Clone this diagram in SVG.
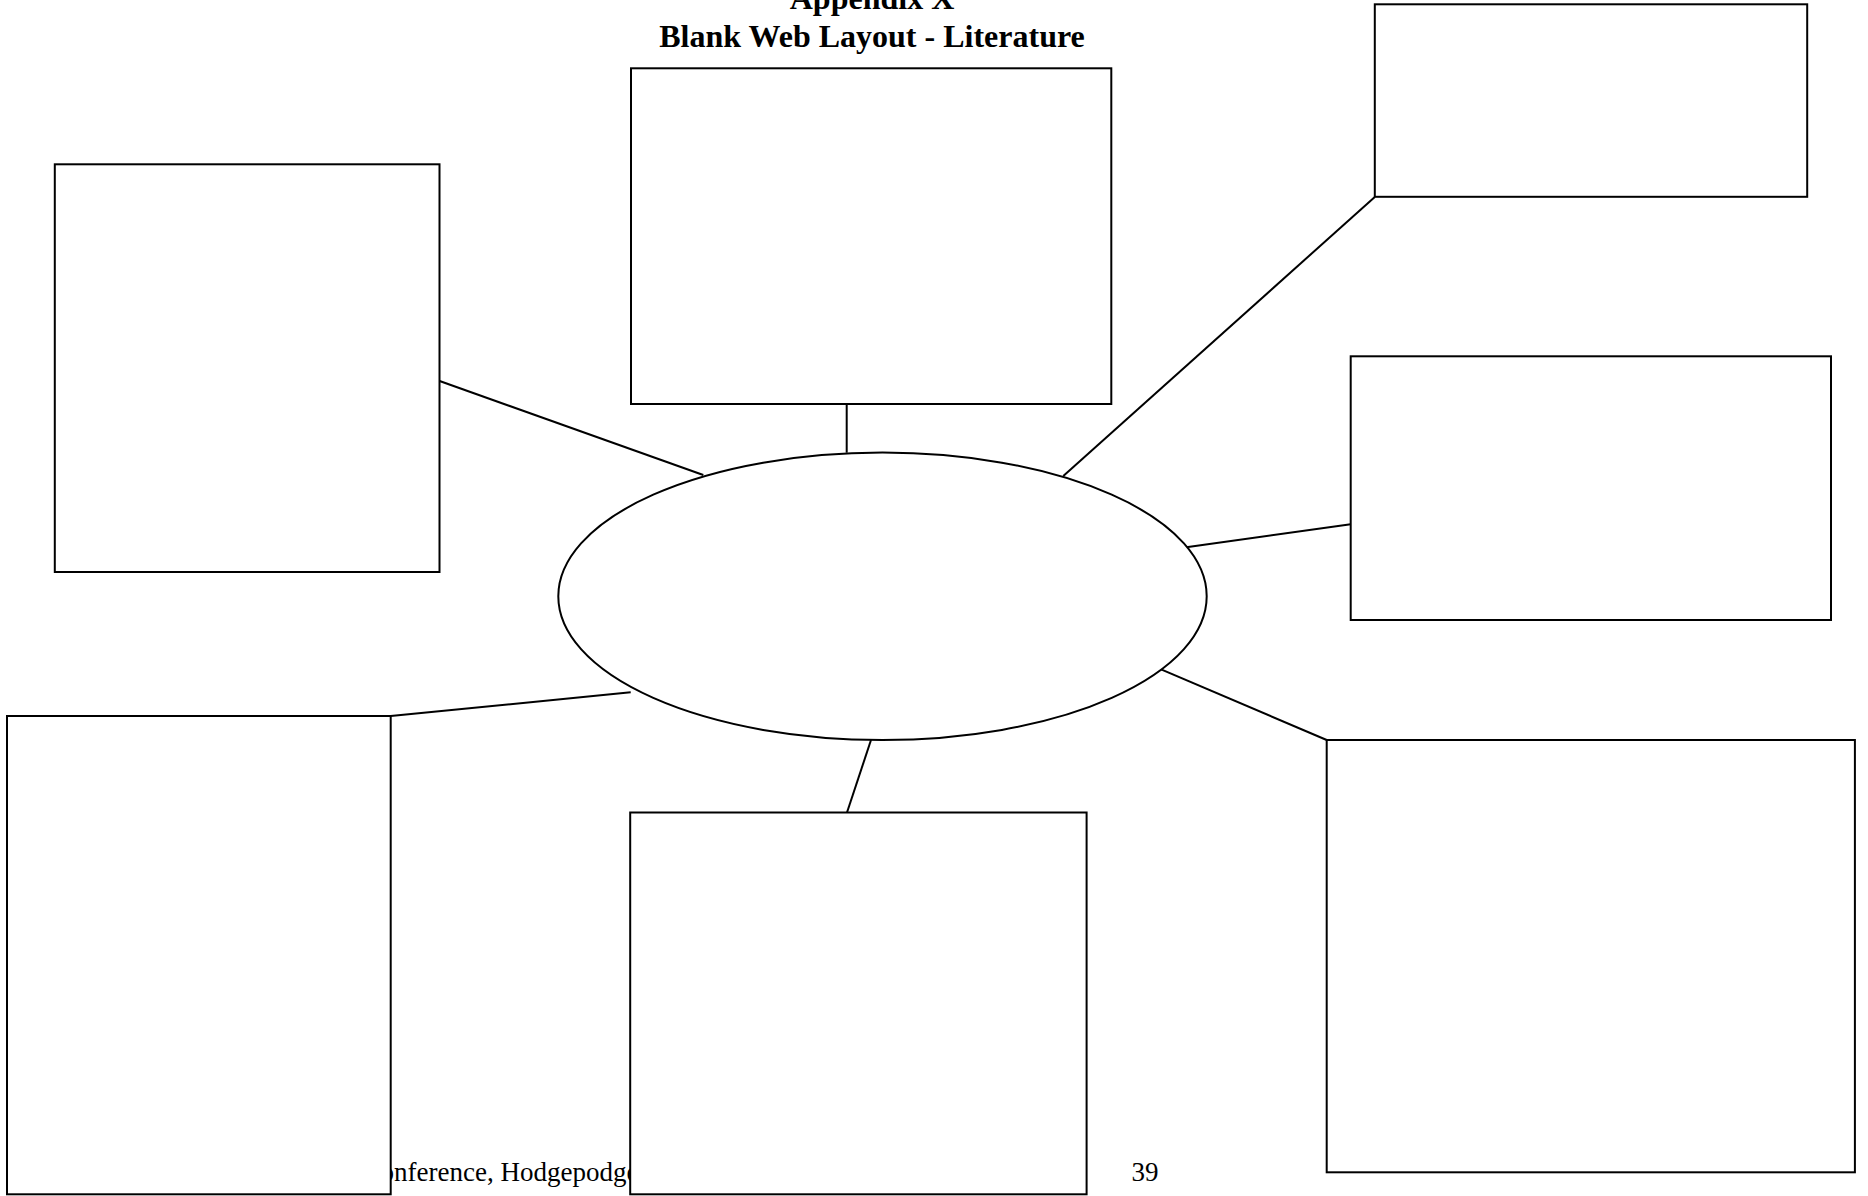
<svg xmlns="http://www.w3.org/2000/svg" width="1868" height="1196" viewBox="0 0 1868 1196">
<style>
.box{fill:#fff;stroke:#000;stroke-width:2}
.conn line{stroke:#000;stroke-width:2}
.title{font-family:"Liberation Serif","Times New Roman",serif;font-weight:bold;font-size:32px;text-anchor:middle;fill:#000}
.foot{font-family:"Liberation Serif","Times New Roman",serif;font-size:27px;fill:#000}
</style>
<rect width="1868" height="1196" fill="#fff"/>
<g id="title">
<text class="title" x="872" y="9">Appendix X</text>
<text class="title" x="872" y="47">Blank Web Layout - Literature</text>
</g>
<g id="footer">
<text class="foot" x="380.5" y="1181">onference, Hodgepodge</text>
<text class="foot" x="1131.5" y="1181">39</text>
</g>
<g id="connectors" class="conn">
<line x1="439.6" y1="381" x2="703.3" y2="475"/>
<line x1="846.7" y1="404" x2="846.7" y2="452.7"/>
<line x1="1374.8" y1="197" x2="1063.3" y2="476"/>
<line x1="1350.7" y1="524.3" x2="1182.7" y2="547.7"/>
<line x1="1159.3" y1="668.7" x2="1326.7" y2="740"/>
<line x1="871" y1="740" x2="847" y2="812.5"/>
<line x1="630.7" y1="692.3" x2="390.7" y2="716"/>
</g>
<g id="center">
<ellipse class="box" cx="882.5" cy="596.3" rx="324.2" ry="143.7"/>
</g>
<g id="box-top">
<rect class="box" x="631" y="68.3" width="480.3" height="335.7"/>
</g>
<g id="box-top-right">
<rect class="box" x="1374.8" y="4.3" width="432.4" height="192.5"/>
</g>
<g id="box-left">
<rect class="box" x="54.8" y="164.3" width="384.7" height="407.7"/>
</g>
<g id="box-right">
<rect class="box" x="1350.7" y="356.3" width="480.3" height="263.7"/>
</g>
<g id="box-bottom-left">
<rect class="box" x="7" y="716" width="383.7" height="478.3"/>
</g>
<g id="box-bottom">
<rect class="box" x="630.2" y="812.5" width="456.4" height="381.8"/>
</g>
<g id="box-bottom-right">
<rect class="box" x="1326.7" y="740" width="528.2" height="432.3"/>
</g>
</svg>
